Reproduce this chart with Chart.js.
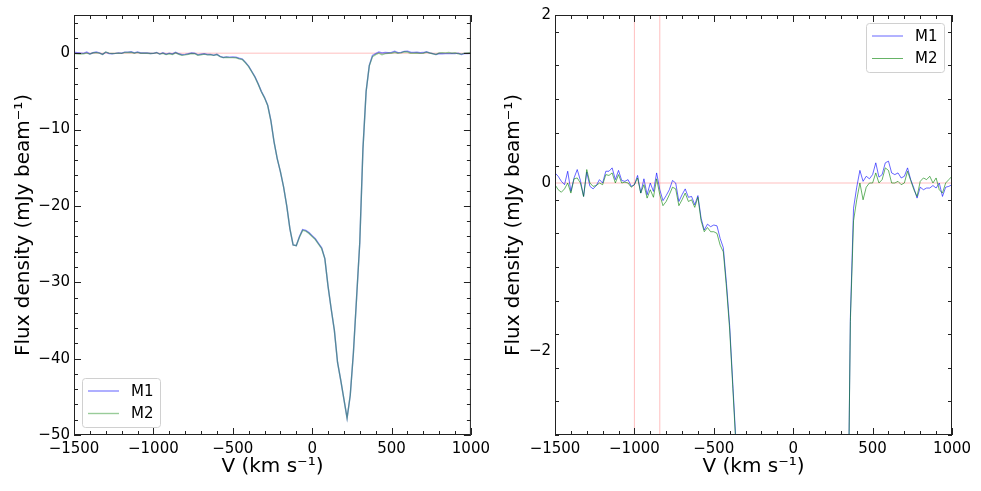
<!DOCTYPE html>
<html lang="en">
<head>
<meta charset="UTF-8">
<title>Flux density spectra M1 / M2</title>
<script src="https://cdn.jsdelivr.net/npm/chart.js"></script>
<style>
  body { margin: 0; background: #fff; }
  .wrap { position: relative; width: 981px; height: 491px; }
  .panel { position: absolute; top: 0; }
  #left { left: 0; }
  #right { left: 490px; }
</style>
</head>
<body>
<div class="wrap">
  <div class="panel" id="left"><canvas id="fullChart" width="495" height="491"></canvas></div>
  <div class="panel" id="right"><canvas id="zoomChart" width="491" height="491"></canvas></div>
</div>
<script>
// velocity channels (km/s)
const velocity = [
  -1500, -1480, -1460, -1440, -1420, -1400, -1380, -1360, -1340, -1320,
  -1300, -1280, -1260, -1240, -1220, -1200, -1180, -1160, -1140, -1120,
  -1100, -1080, -1060, -1040, -1020, -1000, -980, -960, -940, -920,
  -900, -880, -860, -840, -820, -800, -780, -760, -740, -720,
  -700, -680, -660, -640, -620, -600, -580, -560, -540, -520,
  -500, -480, -460, -440, -420, -400, -380, -360, -340, -320,
  -300, -280, -260, -240, -220, -200, -180, -160, -140, -120,
  -100, -80, -60, -40, -20, 0, 20, 40, 60, 80,
  100, 120, 140, 160, 180, 200, 220, 240, 260, 280,
  300, 320, 340, 360, 380, 400, 420, 440, 460, 480,
  500, 520, 540, 560, 580, 600, 620, 640, 660, 680,
  700, 720, 740, 760, 780, 800, 820, 840, 860, 880,
  900, 920, 940, 960, 980, 1000
];

// flux density (mJy/beam)
const m1 = [
  0.12, 0.08, 0.02, -0.02, 0.14, -0.10, 0.06, 0.16, 0.03, -0.16,
  0.13, -0.04, -0.07, -0.03, 0.04, 0.00, 0.14, 0.14, 0.18, 0.04,
  0.15, 0.03, 0.02, 0.04, -0.04, -0.02, 0.09, -0.12, 0.05, -0.14,
  0.00, -0.10, 0.12, -0.08, -0.21, -0.15, -0.08, 0.03, 0.00, -0.22,
  -0.14, -0.07, -0.17, -0.16, -0.26, -0.15, -0.42, -0.56, -0.49, -0.52,
  -0.50, -0.51, -0.66, -0.77, -1.20, -1.70, -2.40, -3.10, -4.00, -5.00,
  -5.80, -6.80, -8.80, -11.6, -13.8, -15.5, -17.5, -20.0, -23.0, -25.1,
  -25.2, -24.0, -23.1, -23.2, -23.5, -23.9, -24.3, -24.9, -25.5, -26.9,
  -30.5, -33.5, -36.3, -40.5, -42.8, -45.3, -47.8, -44.8, -39.2, -32.0,
  -24.8, -12.5, -5.0, -1.6, -0.30, -0.05, 0.15, 0.02, 0.08, 0.05,
  0.10, 0.24, 0.07, 0.10, 0.24, 0.26, 0.12, 0.10, 0.12, 0.06,
  0.08, 0.18, 0.04, -0.06, -0.18, -0.05, -0.08, -0.06, -0.06, -0.03,
  -0.06, 0.00, -0.16, -0.05, -0.04, -0.02
];

const m2 = [
  -0.02, -0.08, -0.11, -0.07, 0.00, -0.12, 0.05, 0.06, 0.00, -0.16,
  0.16, 0.00, -0.04, -0.03, 0.00, -0.02, 0.10, 0.09, 0.12, 0.00,
  0.10, 0.00, 0.01, 0.00, -0.05, -0.02, 0.06, -0.12, -0.02, -0.18,
  -0.08, -0.17, 0.05, -0.14, -0.27, -0.22, -0.14, -0.05, -0.07, -0.27,
  -0.20, -0.12, -0.22, -0.20, -0.29, -0.17, -0.45, -0.58, -0.53, -0.58,
  -0.58, -0.60, -0.74, -0.82, -1.25, -1.75, -2.45, -3.15, -4.05, -5.05,
  -5.85, -6.85, -8.85, -11.6, -13.8, -15.5, -17.5, -20.0, -23.0, -25.1,
  -25.2, -24.1, -23.2, -23.3, -23.6, -24.0, -24.4, -25.0, -25.6, -26.9,
  -30.5, -33.5, -36.3, -40.5, -42.8, -45.3, -47.8, -44.8, -39.2, -32.0,
  -24.8, -12.5, -5.0, -1.65, -0.45, -0.20, 0.00, -0.20, -0.05, 0.00,
  0.00, 0.12, 0.00, 0.04, 0.18, 0.15, 0.00, 0.00, 0.02, -0.02,
  0.00, 0.14, 0.03, -0.08, -0.16, 0.02, 0.06, 0.04, 0.08, 0.00,
  0.06, -0.08, -0.12, 0.00, 0.04, 0.08
];

const xRange = [-1500, 1000];
const fullYRange = [-50, 5];
const zoomYRange = [-3, 2];
const xTicks = [-1500, -1000, -500, 0, 500, 1000];
const fullYTicks = [-50, -40, -30, -20, -10, 0];
const zoomYTicks = [-2, 0, 2];
const vLines = [-1000, -840];

const FONT = "'DejaVu Sans', sans-serif";
const REF = 'rgba(255, 0, 0, 0.25)';
const fmt = v => (v < 0 ? '\u2212' + Math.abs(v) : String(v));

// frame + inward major/minor ticks on all four sides
const frameTicks = {
  id: 'frameTicks',
  afterDatasetsDraw(chart, args, opts) {
    const { ctx, chartArea: a, scales: { x, y } } = chart;
    ctx.save();
    ctx.strokeStyle = '#222';
    ctx.lineWidth = 1;
    ctx.strokeRect(a.left + 0.5, a.top + 0.5, a.right - a.left - 1, a.bottom - a.top - 1);
    ctx.beginPath();
    const nx = Math.round((x.max - x.min) / opts.xMinor);
    for (let i = 0; i <= nx; i++) {
      const v = x.min + i * opts.xMinor;
      const len = xTicks.includes(Math.round(v)) ? 7 : 4;
      const px = Math.round(x.getPixelForValue(v)) + 0.5;
      ctx.moveTo(px, a.bottom); ctx.lineTo(px, a.bottom - len);
      ctx.moveTo(px, a.top); ctx.lineTo(px, a.top + len);
    }
    const majors = opts.yMajor;
    const ny = Math.round((y.max - y.min) / opts.yMinor);
    for (let i = 0; i <= ny; i++) {
      const v = +(opts.yStart + i * opts.yMinor).toFixed(3);
      if (v < y.min || v > y.max) continue;
      const len = majors.includes(v) ? 7 : 4;
      const py = Math.round(y.getPixelForValue(v)) + 0.5;
      ctx.moveTo(a.left, py); ctx.lineTo(a.left + len, py);
      ctx.moveTo(a.right, py); ctx.lineTo(a.right - len, py);
    }
    ctx.stroke();
    ctx.restore();
  }
};

// legend box drawn inside the plot area
const insideLegend = {
  id: 'insideLegend',
  afterDraw(chart, args, opts) {
    const { ctx, chartArea: a } = chart;
    const items = chart.data.datasets.filter(d => d.label === 'M1' || d.label === 'M2')
      .sort((p, q) => p.label.localeCompare(q.label));
    const w = 78, h = 49;
    const left = opts.corner === 'lower left' ? a.left + 8 : a.right - 8 - w;
    const top = opts.corner === 'lower left' ? a.bottom - 8 - h : a.top + 8;
    ctx.save();
    ctx.fillStyle = 'rgba(255,255,255,0.8)';
    ctx.strokeStyle = '#d0d0d0';
    ctx.lineWidth = 1;
    ctx.beginPath();
    ctx.roundRect(left + 0.5, top + 0.5, w, h, 3);
    ctx.fill();
    ctx.stroke();
    ctx.font = '15px ' + FONT;
    ctx.textBaseline = 'middle';
    items.forEach((d, i) => {
      const cy = top + 13 + i * 22.5;
      ctx.strokeStyle = d.borderColor;
      ctx.lineWidth = d.borderWidth;
      ctx.beginPath();
      ctx.moveTo(left + 6, cy); ctx.lineTo(left + 37, cy);
      ctx.stroke();
      ctx.fillStyle = '#000';
      ctx.fillText(d.label, left + 49, cy + 1);
    });
    ctx.restore();
  }
};

function spectrum(label, values, color, width, order) {
  return {
    label, order,
    data: velocity.map((v, i) => ({ x: v, y: values[i] })),
    borderColor: color, borderWidth: width,
    pointRadius: 0, tension: 0, fill: false
  };
}

function refLine(points) {
  return { label: 'ref', order: 5, data: points, borderColor: REF, borderWidth: 1, pointRadius: 0, fill: false };
}

function makeChart(id, cfg) {
  const datasets = [
    spectrum('M1', m1, cfg.c1, cfg.lw, 2),
    spectrum('M2', m2, cfg.c2, cfg.lw, 1),
    refLine([{ x: xRange[0], y: 0 }, { x: xRange[1], y: 0 }])
  ];
  cfg.vLines.forEach(v => datasets.push(refLine([{ x: v, y: cfg.yRange[0] }, { x: v, y: cfg.yRange[1] }])));

  const tickFont = { family: FONT, size: 15 };
  const titleFont = { family: FONT, size: 20 };

  new Chart(document.getElementById(id), {
    type: 'line',
    data: { datasets },
    options: {
      responsive: false,
      animation: false,
      layout: { padding: { top: 15, right: cfg.padRight, left: 0, bottom: 0 } },
      plugins: {
        legend: { display: false },
        tooltip: { enabled: false },
        frameTicks: { xMinor: 100, yMinor: cfg.yMinor, yStart: cfg.yRange[0], yMajor: cfg.yTicks },
        insideLegend: { corner: cfg.legend }
      },
      scales: {
        x: {
          type: 'linear', min: xRange[0], max: xRange[1],
          afterBuildTicks: s => { s.ticks = xTicks.map(v => ({ value: v })); },
          afterFit: s => { s.height = 56; },
          grid: { display: false, drawTicks: false },
          border: { display: false },
          ticks: { font: tickFont, color: '#000', padding: 5, autoSkip: false, maxRotation: 0, callback: fmt },
          title: { display: true, text: 'V (km s\u207B\u00B9)', font: titleFont, color: '#000', padding: { top: 0, bottom: 12 } }
        },
        y: {
          type: 'linear', min: cfg.yRange[0], max: cfg.yRange[1],
          afterBuildTicks: s => { s.ticks = cfg.yTicks.map(v => ({ value: v })); },
          afterFit: s => { s.width = cfg.yWidth; },
          grid: { display: false, drawTicks: false },
          border: { display: false },
          ticks: { font: tickFont, color: '#000', padding: 4, callback: fmt },
          title: { display: true, text: 'Flux density (mJy beam\u207B\u00B9)', font: titleFont, color: '#000', padding: { top: 12, bottom: 0 } }
        }
      }
    },
    plugins: [frameTicks, insideLegend]
  });
}

makeChart('fullChart', {
  yRange: fullYRange, yTicks: fullYTicks, yMinor: 2, yWidth: 74, padRight: 19,
  legend: 'lower left', vLines: [],
  c1: 'rgba(0, 0, 255, 0.45)', c2: 'rgba(0, 128, 0, 0.4)', lw: 1.4
});

makeChart('zoomChart', {
  yRange: zoomYRange, yTicks: zoomYTicks, yMinor: 0.4, yWidth: 65, padRight: 29,
  legend: 'upper right', vLines: vLines,
  c1: 'rgba(0, 0, 255, 0.6)', c2: 'rgba(0, 128, 0, 0.6)', lw: 1
});
</script>
</body>
</html>
